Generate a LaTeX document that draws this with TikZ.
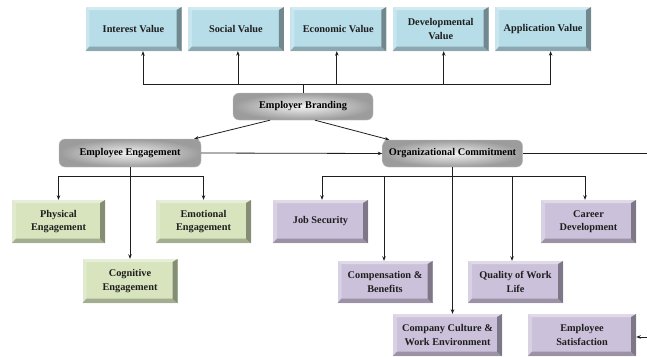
\documentclass[tikz,border=0pt]{standalone}
\usepackage{fontspec}
\setmainfont{Liberation Serif}
\usetikzlibrary{arrows.meta, positioning, calc}
\definecolor{charcoal}{RGB}{30, 30, 30}
\definecolor{valueblue}{RGB}{183, 221, 232}
\definecolor{engagegreen}{RGB}{215, 228, 189}
\definecolor{commitpurple}{RGB}{204, 193, 218}
\newcommand{\diagfont}{\fontsize{10.3}{13.5}\selectfont\bfseries}

\begin{document}
\begin{tikzpicture}[x=1pt, y=-1pt,
            bevelbox/.style={fill=#1, draw=none, minimum width=95pt, minimum height=43pt, inner sep=1pt, align=center, font=\diagfont, text=charcoal,
                path picture={
                    \coordinate (nw) at (path picture bounding box.north west);
                    \coordinate (ne) at (path picture bounding box.north east);
                    \coordinate (sw) at (path picture bounding box.south west);
                    \coordinate (se) at (path picture bounding box.south east);
                    \fill[white, opacity=.4] (nw) -- (ne) -- ([shift={(-5pt,-3pt)}]ne) -- ([shift={(4pt,-3pt)}]nw) -- cycle;
                    \fill[white, opacity=.25] (nw) -- ([shift={(4pt,-3pt)}]nw) -- ([shift={(4pt,4.5pt)}]sw) -- (sw) -- cycle;
                    \fill[black, opacity=.38] (ne) -- (se) -- ([shift={(-5pt,4.5pt)}]se) -- ([shift={(-5pt,-3pt)}]ne) -- cycle;
                    \fill[black, opacity=.24] (sw) -- (se) -- ([shift={(-5pt,4.5pt)}]se) -- ([shift={(4pt,4.5pt)}]sw) -- cycle;
                }},
            valuebox/.style={bevelbox=valueblue, minimum width=96pt, minimum height=44pt},
            engagebox/.style={bevelbox=engagegreen},
            commitbox/.style={bevelbox=commitpurple},
            hub/.style={draw=gray!50, rounded corners=6pt, minimum width=140pt, minimum height=27pt, inner sep=1pt, font=\diagfont, text=black,
                shading=radial, inner color=gray!10, outer color=gray!78},
            line/.style={line width=0.8pt, charcoal},
            arrow/.style={-{Stealth[length=4.5pt, width=3.5pt]}, line width=0.8pt, charcoal}
        ]
            \useasboundingbox (0,0) rectangle (647,356);

            \node[valuebox] (interest) at (133.5,29) {Interest Value};
            \node[valuebox, right=6pt of interest] (social) {Social Value};
            \node[valuebox, right=6pt of social] (economic) {Economic Value};
            \node[valuebox, right=6pt of economic] (developmental) {Developmental\\Value};
            \node[valuebox, right=6pt of developmental] (application) {Application Value};

            \node[hub] (branding) at (303,106.5) {Employer Branding};
            \node[hub, minimum width=142pt, minimum height=28pt] (engagement) at (130,153) {Employee Engagement};
            \node[hub] (commitment) at (452.5,153.5) {Organizational Commitment};

            \node[engagebox, minimum width=93pt] (physical) at (58.5,221.5) {Physical\\Engagement};
            \node[engagebox] (emotional) at (203.5,221.5) {Emotional\\Engagement};
            \node[engagebox, minimum height=44pt] (cognitive) at (130,281) {Cognitive\\Engagement};

            \node[commitbox] (jobsecurity) at (320.5,221.5) {Job Security};
            \node[commitbox] (career) at (588.5,221.5) {Career\\Development};
            \node[commitbox, minimum height=42pt] (compensation) at (385,282) {Compensation \&\\Benefits};
            \node[commitbox, minimum height=42pt] (quality) at (515.5,282) {Quality of Work\\Life};
            \node[commitbox, minimum width=109pt, minimum height=42pt] (culture) at (447.5,335) {Company Culture \&\\Work Environment};
            \node[commitbox, minimum width=108pt, minimum height=42pt] (satisfaction) at (582,335) {Employee\\Satisfaction};

            \coordinate (brandbus) at (303,84);
            \coordinate (engagebus) at (130,176);
            \coordinate (commitbus) at (452.5,176);
            \coordinate (offpage) at (656,153.5);

            \draw[line] (branding.north) -- (brandbus);
            \draw[arrow] (brandbus) -| ([xshift=9.5pt]interest.south);
            \draw[arrow] (brandbus) -| ([xshift=2pt]social.south);
            \draw[arrow] (brandbus) -| ([xshift=-1.5pt]economic.south);
            \draw[arrow] (brandbus) -| ([xshift=3pt]developmental.south);
            \draw[arrow] (brandbus) -| ([xshift=7.5pt]application.south);

            \draw[arrow] ([xshift=-33pt]branding.south) -- ([xshift=-7pt]engagement.north east);
            \draw[arrow] ([xshift=12pt]branding.south) -- ([xshift=7pt]commitment.north west);
            \draw[arrow] (engagement.east) -- (commitment.west);

            \draw[line] (engagement.south) -- (engagebus);
            \draw[arrow] (engagebus) -| (physical.north);
            \draw[arrow] (engagebus) -| (emotional.north);
            \draw[arrow] (engagement.south) -- (cognitive.north);

            \draw[line] (commitment.south) -- (commitbus);
            \draw[arrow] (commitbus) -| ([xshift=1.5pt]jobsecurity.north);
            \draw[arrow] (commitbus) -| ([xshift=-3.5pt]career.north);
            \draw[arrow] (commitbus) -| ([xshift=-1pt]compensation.north);
            \draw[arrow] (commitbus) -| ([xshift=-3.5pt]quality.north);
            \draw[arrow] (commitment.south) -- ([xshift=5pt]culture.north);

            \draw[arrow] (commitment.east) -- (offpage) |- ([yshift=-2pt]satisfaction.east);
        \end{tikzpicture}
\end{document}
